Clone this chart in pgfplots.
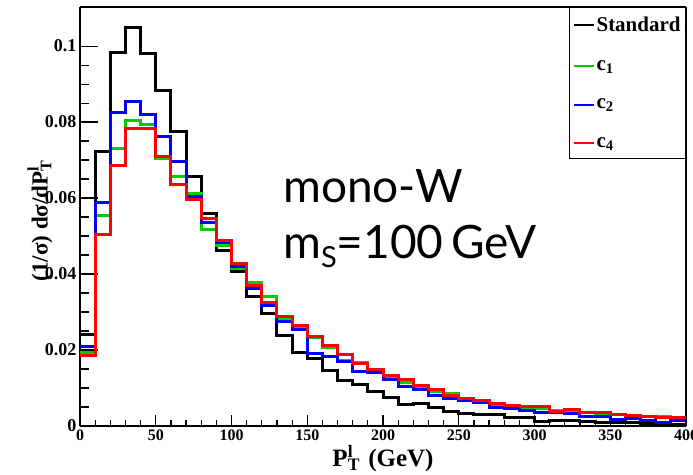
\documentclass[border=0pt]{standalone}
\usepackage{fontspec}
\setmainfont{Liberation Serif}
\newfontfamily\annot{Lato}
\usepackage{pgfplots}
\usepackage{pgfplotstable}
\pgfplotsset{compat=1.18}
\definecolor{rgreen}{rgb}{0,0.8,0}
\pgfplotstableread{
x std c1 c2 c4
0 0.0241 0.0193 0.0209 0.0185
10 0.0722 0.0553 0.0589 0.0505
20 0.0983 0.0731 0.0826 0.0687
30 0.1048 0.0805 0.0853 0.0783
40 0.0981 0.0794 0.0820 0.0782
50 0.0884 0.0704 0.0761 0.0709
60 0.0775 0.0658 0.0696 0.0636
70 0.0656 0.0612 0.0603 0.0597
80 0.0560 0.0518 0.0535 0.0546
90 0.0463 0.0474 0.0483 0.0489
100 0.0406 0.0414 0.0421 0.0428
110 0.0342 0.0377 0.0362 0.0371
120 0.0296 0.0340 0.0316 0.0325
130 0.0239 0.0282 0.0275 0.0288
140 0.0194 0.0259 0.0254 0.0264
150 0.0179 0.0233 0.0192 0.0235
160 0.0147 0.0207 0.0184 0.0212
170 0.0120 0.0172 0.0169 0.0187
180 0.0110 0.0167 0.0143 0.0165
190 0.0090 0.0146 0.0140 0.0148
200 0.0074 0.0130 0.0122 0.0132
210 0.0056 0.0115 0.0104 0.0123
220 0.0060 0.0100 0.0097 0.0107
230 0.0049 0.0090 0.0080 0.0097
240 0.0038 0.0086 0.0073 0.0080
250 0.0032 0.0073 0.0066 0.0073
260 0.0031 0.0064 0.0061 0.0067
270 0.0029 0.0057 0.0049 0.0058
280 0.0022 0.0050 0.0046 0.0053
290 0.0022 0.0045 0.0040 0.0051
300 0.0013 0.0045 0.0035 0.0051
310 0.0014 0.0041 0.0035 0.0039
320 0.0015 0.0042 0.0033 0.0044
330 0.0012 0.0036 0.0025 0.0035
340 0.0010 0.0033 0.0026 0.0035
350 0.0009 0.0030 0.0018 0.0031
360 0.0008 0.0027 0.0020 0.0028
370 0.0006 0.0024 0.0014 0.0025
380 0.0005 0.0025 0.0010 0.0022
390 0.0005 0.0022 0.0014 0.0023
400 0.0005 0.0022 0.0014 0.0023
}\histdata
\begin{document}
\begin{tikzpicture}[x=1pt,y=1pt]
\useasboundingbox (-80,-48) rectangle (613,426);
% y axis (ticks, labels, left/right frame)
\begin{axis}[
  at={(0,0)}, anchor=south west,
  scale only axis, width=606pt, height=419pt,
  xmin=0, xmax=400, ymin=0, ymax=0.1103,
  hide x axis,
  axis line style={line width=1.4pt},
  ytick={0,0.02,0.04,0.06,0.08,0.1},
  minor y tick num=3,
  ytick pos=left, tick align=inside,
  major tick length=18pt, minor tick length=9pt,
  tick style={black, line width=1.2pt},
  scaled y ticks=false,
  yticklabel style={/pgf/number format/fixed, /pgf/number format/precision=2,
    /pgf/number format/assume math mode=true,
    font=\bfseries\fontsize{18}{18}\selectfont},
  ylabel={\bfseries\fontsize{23}{23}\selectfont (1/σ) dσ/dP\rlap{\textsuperscript{l}}\textsubscript{T}},
  ylabel style={at={(axis description cs:0,0.49)}, anchor=center, yshift=40pt},
]
\addplot[draw=none, forget plot] coordinates {(0,0)};
\end{axis}
% x axis and histograms
\begin{axis}[
  at={(0,0)}, anchor=south west,
  scale only axis, width=606pt, height=419pt,
  xmin=0, xmax=400, ymin=0, ymax=0.1103,
  hide y axis,
  axis line style={line width=1.4pt},
  xtick={0,50,...,400},
  minor x tick num=4,
  xtick pos=left, tick align=inside,
  major tick length=11pt, minor tick length=6pt,
  tick style={black, line width=1.2pt},
  xticklabel style={/pgf/number format/assume math mode=true,
    font=\bfseries\fontsize{16}{16}\selectfont},
  xlabel={\bfseries\fontsize{25}{25}\selectfont P\rlap{\textsuperscript{l}}\textsubscript{T}\,\,(GeV)},
  xlabel style={yshift=2pt},
  legend style={at={(1,1)}, anchor=north east, draw=black, line width=0.8pt,
    font=\bfseries\fontsize{21}{22}\selectfont, inner xsep=3pt, inner ysep=8pt,
    row sep=23pt},
  legend cell align=left,
  legend image code/.code={\draw[#1] (0pt,0pt) -- (20pt,0pt);},
]
\addlegendimage{color=black, line width=2pt}
\addlegendentry{Standard}
\addlegendimage{color=rgreen, line width=2pt}
\addlegendentry{c\textsubscript{1}}
\addlegendimage{color=blue, line width=2pt}
\addlegendentry{c\textsubscript{2}}
\addlegendimage{color=red, line width=2pt}
\addlegendentry{c\textsubscript{4}}
\addplot[const plot mark left, line width=3pt, color=black, forget plot] table[x=x, y=std] {\histdata};
\addplot[const plot mark left, line width=3pt, color=rgreen, forget plot] table[x=x, y=c1] {\histdata};
\addplot[const plot mark left, line width=3pt, color=blue, forget plot] table[x=x, y=c2] {\histdata};
\addplot[const plot mark left, line width=3pt, color=red, forget plot] table[x=x, y=c4] {\histdata};
\node[anchor=base west, inner sep=0pt, font=\annot\fontsize{46}{46}\selectfont] at (axis cs:134,0.0589) {mono-W};
\node[anchor=base west, inner sep=0pt, font=\annot\fontsize{46}{46}\selectfont] at (axis cs:134,0.0442) {m\raisebox{-9pt}{\fontsize{29}{29}\selectfont S}=100\hspace{8pt}GeV};
\end{axis}
\end{tikzpicture}
\end{document}
